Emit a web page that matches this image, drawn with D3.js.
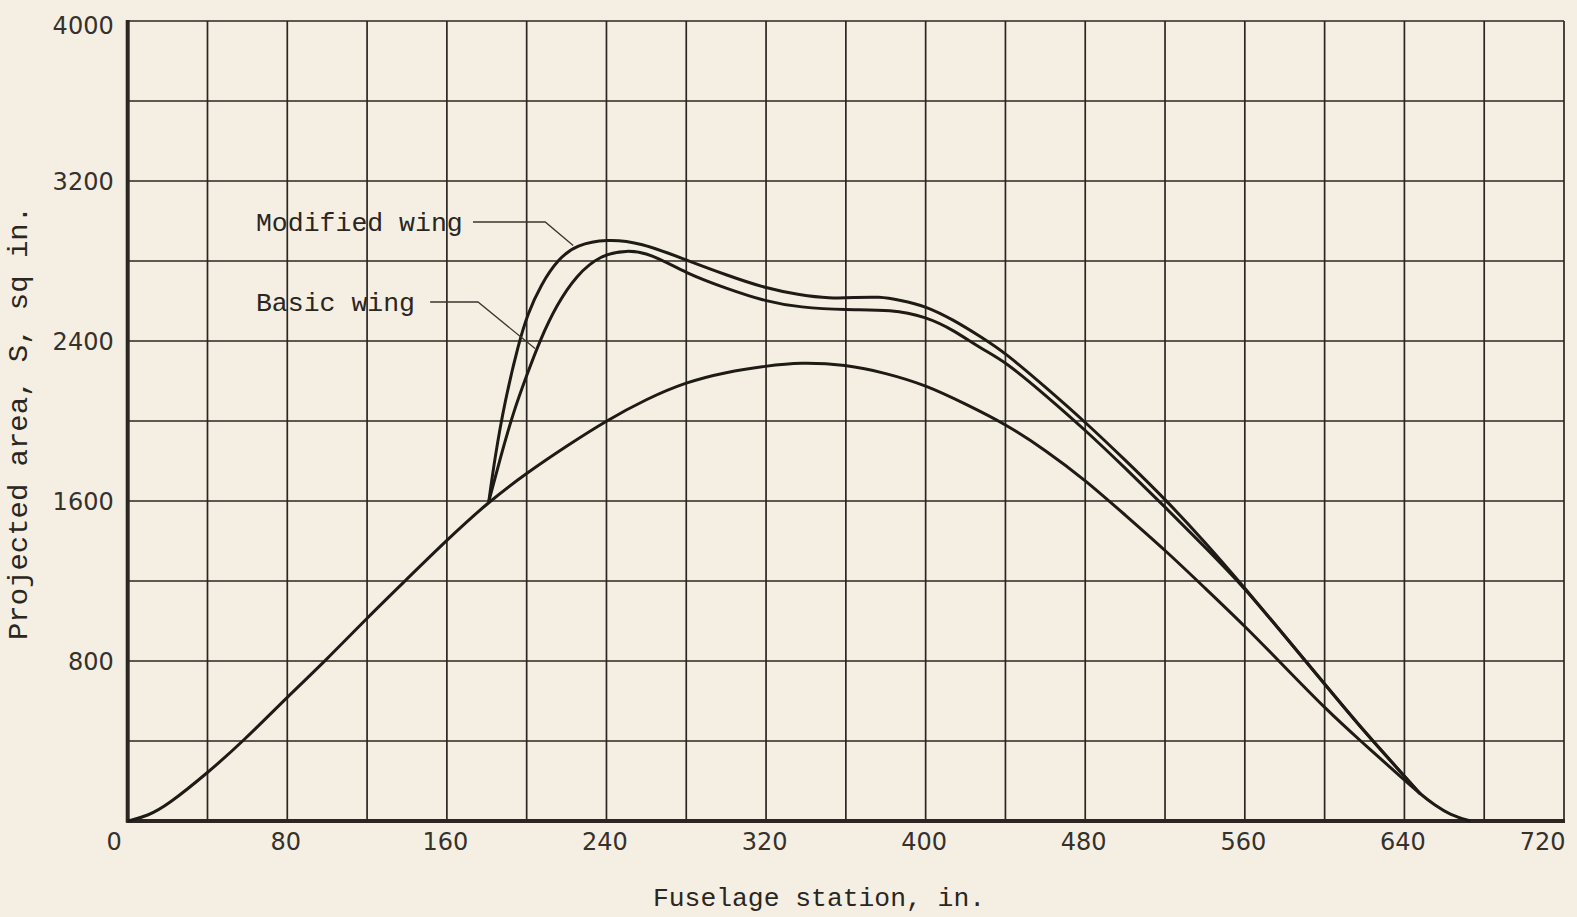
<!DOCTYPE html>
<html><head><meta charset="utf-8">
<script src="https://cdn.jsdelivr.net/npm/d3@7/dist/d3.min.js"></script>
<style>
html,body{margin:0;padding:0;background:#f5efe3;}
svg{display:block;}
</style></head>
<body>
<svg id="chart" width="1577" height="917"></svg>
<script>
// ---- data ----
const xTicks = [0, 80, 160, 240, 320, 400, 480, 560, 640, 720];
const yTicks = [800, 1600, 2400, 3200, 4000];
const xGrid = [0,40,80,120,160,200,240,280,320,360,400,440,480,520,560,600,640,680,720];
const yGrid = [0,400,800,1200,1600,2000,2400,2800,3200,3600,4000];

// lower curve (body alone)
const bodyStation = [0,10,20,40,58,80,99,120,139,160,181,200,220,240,260,280,300,320,337,360,380,400,420,440,460,480,500,520,540,560,580,600,618,640,648,655,663,673];
const bodyArea    = [0,25,80,240,400,620,800,1015,1200,1405,1597,1740,1875,2002,2110,2195,2245,2275,2294,2282,2240,2180,2085,1985,1855,1705,1530,1355,1165,975,770,565,400,205,135,80,30,0];

// Modified wing
const modStation = [181,184,189,196,200.5,207,216,225,240,257,280,300,320,337,352,364,377,387,400,414,427.5,440,460,480,500,520,540,560,580,600,620,640,648];
const modArea    = [1597,1813,2097,2390,2535,2680,2813,2880,2910,2893,2805,2730,2663,2630,2613,2617,2622,2605,2575,2505,2422,2340,2170,1995,1805,1610,1395,1165,925,685,445,225,135];

// Basic wing
const basicStation = [181,186.7,193.4,200,206.7,215,225,237,250,262,280,300,320,337,360,383,400,414,427.5,440,460,480,500,520,540,560,580,600,620,640,648];
const basicArea    = [1597,1813,2047,2228,2405,2580,2730,2830,2855,2838,2738,2663,2597,2568,2555,2558,2522,2455,2363,2297,2130,1955,1765,1570,1370,1165,925,685,445,225,135];

// annotation labels and leader lines (data units)
const labelNames = ["Modified wing", "Basic wing"];
const labelPos = [[64.3, 2951], [64.3, 2551]];
const leaderLines = [
  [[173.1, 2995], [209.3, 2995], [223.3, 2877]],
  [[151.6, 2595], [175.6, 2595], [204.2, 2362]]
];

const xTitle = "Fuselage station, in.";
const yTitle = "Projected area, S, sq in.";

// ---- drawing ----
const svg = d3.select("#chart");
const L = 127.7, R = 1564, T = 21, B = 821;
const x = d3.scaleLinear().domain([0, 720]).range([L, R]);
const y = d3.scaleLinear().domain([0, 4000]).range([B, T]);
const ink = "#2a2621";

svg.append("rect").attr("width", 1577).attr("height", 917).attr("fill", "#f5efe3");

const g = svg.append("g");
g.selectAll("line.vg").data(xGrid).join("line")
  .attr("x1", d => x(d)).attr("x2", d => x(d))
  .attr("y1", y(0)).attr("y2", y(4000))
  .attr("stroke", ink).attr("stroke-width", 1.7);
g.selectAll("line.hg").data(yGrid).join("line")
  .attr("y1", d => y(d)).attr("y2", d => y(d))
  .attr("x1", x(0)).attr("x2", x(720))
  .attr("stroke", ink).attr("stroke-width", 1.7);
// heavy left and bottom axes
g.append("line").attr("x1", x(0)).attr("x2", x(0)).attr("y1", y(0)+1.5).attr("y2", y(4000)-1)
  .attr("stroke", ink).attr("stroke-width", 4);
g.append("line").attr("x1", x(0)-1.5).attr("x2", x(720)+1).attr("y1", y(0)).attr("y2", y(0))
  .attr("stroke", ink).attr("stroke-width", 4);

// axes labels
const xAxis = d3.axisBottom(x).tickValues(xTicks).tickSize(0).tickPadding(12).tickFormat(d3.format("d"));
const xa = svg.append("g").attr("transform", `translate(0,${B})`).call(xAxis);
xa.select(".domain").remove();
xa.selectAll("text")
  .attr("font-family", "'DejaVu Sans', sans-serif").attr("font-size", 24)
  .attr("fill", "#36312b").attr("dy", "0.71em")
  .attr("text-anchor", d => d === 720 ? "end" : "middle")
  .attr("x", d => d === 0 ? -14 : (d === 720 ? 1 : -2));

const yAxis = d3.axisLeft(y).tickValues(yTicks).tickSize(0).tickPadding(14).tickFormat(d3.format("d"));
const ya = svg.append("g").attr("transform", `translate(${L},0)`).call(yAxis);
ya.select(".domain").remove();
ya.selectAll("text")
  .attr("font-family", "'DejaVu Sans', sans-serif").attr("font-size", 24)
  .attr("fill", "#36312b").attr("dy", d => d === 4000 ? "0.5em" : "0.36em");

// curves
const line = d3.line().x(d => x(d[0])).y(d => y(d[1])).curve(d3.curveBasis);
const series = [
  d3.zip(bodyStation, bodyArea),
  d3.zip(basicStation, basicArea),
  d3.zip(modStation, modArea)
];
svg.selectAll("path.curve").data(series).join("path")
  .attr("class", "curve")
  .attr("d", line).attr("fill", "none")
  .attr("stroke", "#1e1a16").attr("stroke-width", 3).attr("stroke-linejoin", "round");

// leader lines
const straight = d3.line().x(d => x(d[0])).y(d => y(d[1]));
svg.selectAll("path.leader").data(leaderLines).join("path")
  .attr("d", straight).attr("fill", "none")
  .attr("stroke", "#3a352f").attr("stroke-width", 1.3);

// labels
const mono = "'Liberation Mono', 'Courier New', monospace";
svg.selectAll("text.lab").data(labelNames).join("text")
  .attr("x", (d, i) => x(labelPos[i][0])).attr("y", (d, i) => y(labelPos[i][1]))
  .attr("font-family", mono).attr("font-size", 26.5).attr("fill", "#2a2621")
  .text(d => d);

svg.append("text").attr("x", 653).attr("y", 906)
  .attr("font-family", mono).attr("font-size", 26).attr("fill", "#2a2621")
  .attr("textLength", 332).attr("lengthAdjust", "spacingAndGlyphs")
  .text(xTitle);

svg.append("text").attr("transform", "translate(27,640) rotate(-90)")
  .attr("font-family", mono).attr("font-size", 27).attr("fill", "#2a2621")
  .attr("textLength", 434).attr("lengthAdjust", "spacingAndGlyphs")
  .text(yTitle);
</script>
</body></html>
